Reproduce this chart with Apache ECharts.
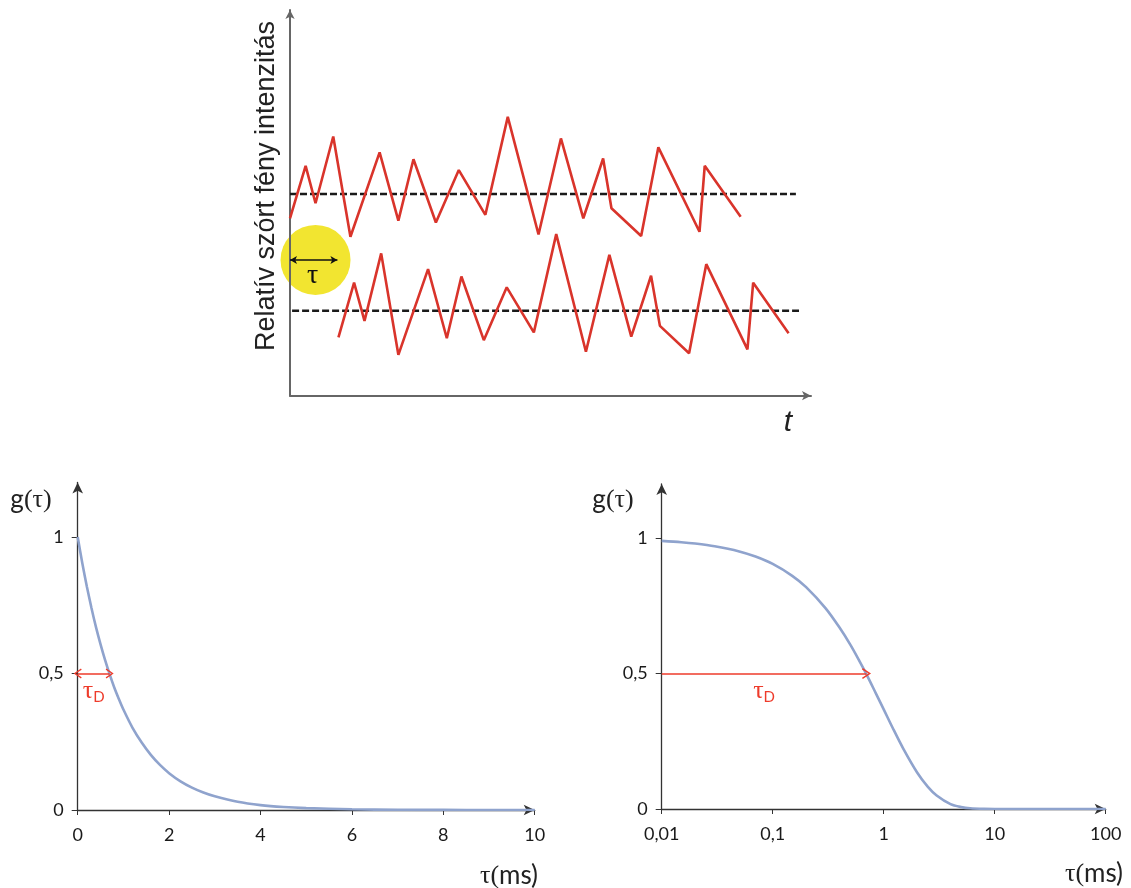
<!DOCTYPE html>
<html>
<head>
<meta charset="utf-8">
<script src="https://cdn.jsdelivr.net/npm/echarts@6/dist/echarts.min.js"></script>
<style>
html,body{margin:0;padding:0;background:#fff;}
#chart{width:1131px;height:888px;}
</style>
</head>
<body>
<div id="chart"></div>
<script>
// ---------- Top panel: scattered light intensity vs time (arbitrary units) ----------
const signalTime1 = [0, 3.0, 4.9, 8.3, 11.6, 17.2, 20.8, 23.7, 28.0, 32.4, 37.5, 41.8, 47.7, 52.0, 56.3, 60.1, 61.7, 67.4, 70.7, 78.6, 79.6, 86.5];
const signalValue1 = [46.0, 59.6, 49.9, 67.2, 41.2, 63.1, 45.4, 61.3, 44.9, 58.5, 46.9, 72.3, 41.8, 66.7, 46.0, 61.5, 48.6, 41.4, 64.4, 42.5, 59.6, 46.4];
const signalTime2 = [9.3, 12.3, 14.3, 17.5, 20.8, 26.5, 30.1, 32.9, 37.2, 41.6, 46.8, 51.1, 56.8, 61.3, 65.5, 69.3, 71.0, 76.6, 79.9, 87.8, 88.9, 95.7];
const signalValue2 = [15.1, 29.3, 19.4, 36.9, 10.6, 32.8, 14.9, 30.9, 14.4, 28.1, 16.4, 41.9, 11.4, 36.5, 15.3, 31.1, 18.1, 11.0, 34.1, 12.0, 29.3, 16.2];
const meanLine1 = [[0, 52.3], [97.1, 52.3]];
const meanLine2 = [[0.4, 22.0], [97.7, 22.0]];
const tauCircle = [4.9, 35.2];
const tauArrow = [[0, 35.2], [9.1, 35.2]];

// ---------- Bottom left: g(tau), linear tau axis (ms) ----------
const linTau = [0, 0.1, 0.2, 0.3, 0.4, 0.5, 0.6, 0.7, 0.8, 0.9, 1.0, 1.2, 1.4, 1.6, 1.8, 2.0, 2.25, 2.5, 2.75, 3, 3.5, 4, 4.5, 5, 6, 7, 8, 9, 10];
const linG   = [1, 0.905, 0.819, 0.741, 0.670, 0.607, 0.549, 0.497, 0.449, 0.407, 0.368, 0.301, 0.247, 0.202, 0.165, 0.135, 0.105, 0.082, 0.064, 0.050, 0.030, 0.018, 0.011, 0.007, 0.0025, 0.001, 0.0003, 0.0001, 0];
const linTickValues = [0, 2, 4, 6, 8, 10];
const linTickLabels = ['0', '2', '4', '6', '8', '10'];

// ---------- Bottom right: g(tau), logarithmic tau axis (ms) ----------
const logTau = [0.01, 0.015, 0.02, 0.03, 0.05, 0.07, 0.1, 0.15, 0.2, 0.3, 0.4, 0.5, 0.6, 0.7, 0.85, 1, 1.2, 1.5, 2, 2.5, 3, 4, 5, 6, 8, 10, 20, 50, 100];
const logG   = [0.99, 0.985, 0.98, 0.97, 0.951, 0.932, 0.905, 0.861, 0.819, 0.741, 0.670, 0.607, 0.549, 0.497, 0.427, 0.368, 0.301, 0.223, 0.135, 0.082, 0.050, 0.018, 0.007, 0.0025, 0.0003, 0, 0, 0, 0];
const logTickLabels = ['0,01', '0,1', '1', '10', '100'];

const gTickValues = [0, 0.5, 1];
const gTickLabels = ['0', '0,5', '1'];
const tauDLin = [[0, 0.5], [0.7, 0.5]];
const tauDLog = [[0.01, 0.5], [0.7, 0.5]];

const zip = (a, b) => a.map((v, i) => [v, b[i]]);

const RED = '#EE3B2B';
const CURVE = '#8FA3CD';
const AX = '#333';
const TICKFONT = 'Lato';
const chevron = 'path://M5,0 L10,8 L8.8,8.8 L5,2.4 L1.2,8.8 L0,8 Z';

const tauDLabel = {
  show: true,
  position: 'insideMiddleBottom',
  distance: 4,
  formatter: '{t|τ}{d|D}',
  rich: {
    t: {fontFamily: 'Liberation Serif', fontSize: 26, color: RED},
    d: {fontFamily: 'Lato', fontSize: 15, color: RED, padding: [12, 0, 0, 0]}
  }
};

const gAxis = (gi) => ({
  type: 'value', gridIndex: gi, min: 0, max: 1.2,
  splitLine: {show: false},
  axisLine: {show: true, lineStyle: {color: AX, width: 1.3}, symbol: ['none', 'arrow'], symbolSize: [8, 11]},
  axisTick: {show: true, length: 6, lineStyle: {color: AX}, customValues: gTickValues},
  axisLabel: {
    show: true, margin: 14, fontFamily: TICKFONT, fontSize: 18, color: '#1a1a1a',
    customValues: gTickValues,
    formatter: (v) => { const i = gTickValues.indexOf(Math.round(v * 10) / 10); return i >= 0 ? gTickLabels[i] : ''; }
  }
});

const chart = echarts.init(document.getElementById('chart'), null, {renderer: 'canvas'});
chart.setOption({
  animation: false,
  backgroundColor: '#fff',
  grid: [
    {left: 290, top: 10, width: 521, height: 385.7},
    {left: 77.7, top: 482.4, width: 457, height: 327.6},
    {left: 661.7, top: 484, width: 444, height: 325}
  ],
  xAxis: [
    {type: 'value', gridIndex: 0, min: 0, max: 100, splitLine: {show: false},
     axisLine: {show: true, lineStyle: {color: '#666', width: 2}, symbol: ['none', 'arrow'], symbolSize: [7, 9]},
     axisTick: {show: false}, axisLabel: {show: false}},
    {type: 'value', gridIndex: 1, min: 0, max: 10, interval: 2, splitLine: {show: false},
     axisLine: {show: true, lineStyle: {color: AX, width: 1.3}, symbol: ['none', 'arrow'], symbolSize: [8, 11]},
     axisTick: {show: true, length: 5, lineStyle: {color: AX}},
     axisLabel: {show: true, margin: 16, fontFamily: TICKFONT, fontSize: 18, color: '#1a1a1a',
       formatter: (v) => { const i = linTickValues.indexOf(v); return i >= 0 ? linTickLabels[i] : ''; }}},
    {type: 'log', logBase: 10, gridIndex: 2, min: 0.01, max: 100, splitLine: {show: false},
     axisLine: {show: true, lineStyle: {color: AX, width: 1.3}, symbol: ['none', 'arrow'], symbolSize: [8, 11]},
     axisTick: {show: true, length: 5, lineStyle: {color: AX}},
     minorTick: {show: false},
     axisLabel: {show: true, margin: 16, fontFamily: TICKFONT, fontSize: 18, color: '#1a1a1a',
       formatter: (v) => logTickLabels[Math.round(Math.log10(v)) + 2] || ''}}
  ],
  yAxis: [
    {type: 'value', gridIndex: 0, min: 0, max: 100, splitLine: {show: false},
     axisLine: {show: true, lineStyle: {color: '#666', width: 2}, symbol: ['none', 'arrow'], symbolSize: [7, 9]},
     axisTick: {show: false}, axisLabel: {show: false}},
    gAxis(1),
    gAxis(2)
  ],
  series: [
    {type: 'scatter', xAxisIndex: 0, yAxisIndex: 0, z: -1, silent: true,
     data: [tauCircle], symbol: 'circle', symbolSize: 70,
     itemStyle: {color: '#F2E530', opacity: 1},
     label: {show: true, position: 'inside', offset: [-3, 16], formatter: 'τ',
       fontFamily: 'Liberation Serif', fontSize: 28, color: '#111'},
     markLine: {silent: true, symbol: ['arrow', 'arrow'], symbolSize: [6, 7], z: 5,
       lineStyle: {color: '#111', width: 1.5, type: 'solid'}, label: {show: false},
       data: [[{coord: tauArrow[0]}, {coord: tauArrow[1]}]]}},
    {type: 'line', xAxisIndex: 0, yAxisIndex: 0, data: meanLine1, showSymbol: false, silent: true,
     lineStyle: {color: '#1a1a1a', width: 2.5, type: [7, 3]}},
    {type: 'line', xAxisIndex: 0, yAxisIndex: 0, data: meanLine2, showSymbol: false, silent: true,
     lineStyle: {color: '#1a1a1a', width: 2.5, type: [7, 3]}},
    {type: 'line', xAxisIndex: 0, yAxisIndex: 0, data: zip(signalTime1, signalValue1), showSymbol: false, silent: true,
     lineStyle: {color: '#D9342B', width: 2.6}},
    {type: 'line', xAxisIndex: 0, yAxisIndex: 0, data: zip(signalTime2, signalValue2), showSymbol: false, silent: true,
     lineStyle: {color: '#D9342B', width: 2.6}},
    {type: 'line', xAxisIndex: 1, yAxisIndex: 1, data: zip(linTau, linG), showSymbol: false, silent: true,
     smooth: 0.3, lineStyle: {color: CURVE, width: 2.6},
     markLine: {silent: true, symbol: [chevron, chevron], symbolSize: [10, 8],
       lineStyle: {color: RED, width: 1.6, type: 'solid'}, label: tauDLabel,
       data: [[{coord: tauDLin[0]}, {coord: tauDLin[1]}]]}},
    {type: 'line', xAxisIndex: 2, yAxisIndex: 2, data: zip(logTau, logG), showSymbol: false, silent: true,
     smooth: 0.3, lineStyle: {color: CURVE, width: 2.6},
     markLine: {silent: true, symbol: ['none', chevron], symbolSize: [11, 9],
       lineStyle: {color: RED, width: 1.6, type: 'solid'}, label: tauDLabel,
       data: [[{coord: tauDLog[0]}, {coord: tauDLog[1]}]]}}
  ],
  graphic: [
    {type: 'text', x: 267, y: 186, rotation: Math.PI / 2,
     style: {text: 'Relatív szórt fény intenzitás', font: '27px "Liberation Sans"', fill: '#222',
       align: 'center', verticalAlign: 'middle'}},
    {type: 'text', x: 788, y: 423,
     style: {text: 't', font: 'italic 30px "Liberation Sans"', fill: '#222', align: 'center', verticalAlign: 'middle'}},
    {type: 'text', x: 31, y: 500,
     style: {text: '{a|g}{b|(τ)}', align: 'center', verticalAlign: 'middle',
       rich: {a: {fontFamily: 'Lato', fontSize: 26, fill: '#222'}, b: {fontFamily: 'Liberation Serif', fontSize: 26, fill: '#222'}}}},
    {type: 'text', x: 613, y: 500,
     style: {text: '{a|g}{b|(τ)}', align: 'center', verticalAlign: 'middle',
       rich: {a: {fontFamily: 'Lato', fontSize: 26, fill: '#222'}, b: {fontFamily: 'Liberation Serif', fontSize: 26, fill: '#222'}}}},
    {type: 'text', x: 509, y: 876,
     style: {text: '{b|τ(}{a|ms)}', align: 'center', verticalAlign: 'middle',
       rich: {a: {fontFamily: 'Lato', fontSize: 26, fill: '#222'}, b: {fontFamily: 'Liberation Serif', fontSize: 26, fill: '#222'}}}},
    {type: 'text', x: 1094, y: 874,
     style: {text: '{b|τ(}{a|ms)}', align: 'center', verticalAlign: 'middle',
       rich: {a: {fontFamily: 'Lato', fontSize: 26, fill: '#222'}, b: {fontFamily: 'Liberation Serif', fontSize: 26, fill: '#222'}}}}
  ]
});
</script>
</body>
</html>
